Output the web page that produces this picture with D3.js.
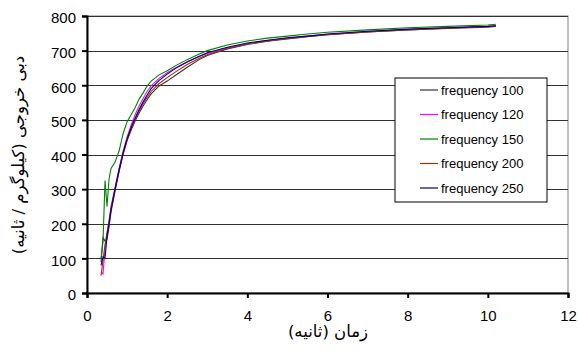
<!DOCTYPE html>
<html>
<head>
<meta charset="utf-8">
<script src="https://cdn.jsdelivr.net/npm/d3@7"></script>
<style>
  body { margin: 0; background: #fff; }
  text { font-family: "Liberation Sans", Arial, sans-serif; }
  .fa { font-family: "DejaVu Sans", sans-serif; }
</style>
</head>
<body>
<div id="chart"></div>
<script>
// time (s), shared by all series
const times = [0.35, 0.4, 0.45, 0.5, 0.55, 0.6, 0.7, 0.8, 0.9, 1.0, 1.1, 1.2, 1.3, 1.4, 1.5, 1.6,
  1.8, 2.0, 2.2, 2.5, 2.8, 3.0, 3.5, 4.0, 4.5, 5.0, 5.5, 6.0, 7.0, 8.0, 9.0, 10.0, 10.2];

const seriesNames = ["frequency 100", "frequency 120", "frequency 150", "frequency 200", "frequency 250"];

const freq100 = [90, 160, 150, 155, 190, 235, 295, 350, 400, 440, 470, 497, 520, 540, 558, 575,
  598, 612, 628, 652, 674, 686, 705, 718, 727, 734, 740, 746, 754, 760, 765, 769, 771];
const freq120 = [60, 55, 130, 175, 210, 250, 305, 360, 410, 450, 485, 515, 540, 562, 582, 598,
  620, 636, 650, 668, 683, 692, 708, 720, 729, 736, 742, 747, 755, 761, 766, 770, 772];
const freq150 = [100, 150, 325, 250, 330, 360, 378, 410, 460, 495, 515, 535, 560, 578, 598, 612,
  630, 642, 656, 674, 690, 700, 716, 728, 736, 742, 748, 753, 760, 766, 770, 774, 776];
const freq200 = [50, 95, 140, 170, 205, 245, 300, 355, 402, 442, 474, 502, 526, 547, 565, 582,
  605, 622, 638, 660, 678, 688, 706, 719, 728, 735, 741, 746, 754, 760, 764, 768, 770];
const freq250 = [80, 105, 100, 165, 200, 240, 300, 355, 405, 445, 478, 505, 530, 552, 572, 590,
  614, 632, 648, 667, 684, 694, 710, 722, 730, 737, 742, 748, 756, 762, 766, 770, 772];

const xTicks = [0, 2, 4, 6, 8, 10, 12];
const yTicks = [0, 100, 200, 300, 400, 500, 600, 700, 800];

const colors = ["#333333", "#ff00ff", "#008000", "#993300", "#000080"];
const allSeries = [freq100, freq120, freq150, freq200, freq250];

const W = 578, H = 351;
const m = {top: 16, right: 10, bottom: 58, left: 87};
const w = W - m.left - m.right, h = H - m.top - m.bottom;

const svg = d3.select("#chart").append("svg")
    .attr("width", W).attr("height", H);

const g = svg.append("g").attr("transform", "translate(" + m.left + "," + m.top + ")");

const x = d3.scaleLinear().domain([0, 12]).range([0, w]);
const y = d3.scaleLinear().domain([0, 800]).range([h, 0]);

// plot border
g.append("rect").attr("width", w).attr("height", h)
  .attr("fill", "none").attr("stroke", "#808080").attr("stroke-width", 1);

// gridlines
g.selectAll(".grid").data(yTicks.filter(d => d > 0)).enter()
  .append("line")
  .attr("x1", 0).attr("x2", w)
  .attr("y1", d => Math.round(y(d)) + 0.5).attr("y2", d => Math.round(y(d)) + 0.5)
  .attr("stroke", "#333").attr("stroke-width", 1.2);

// lines
const line = d3.line().x((d, i) => x(times[i])).y(d => y(d));
allSeries.forEach((s, k) => {
  g.append("path").datum(s)
    .attr("d", line)
    .attr("fill", "none")
    .attr("stroke", colors[k])
    .attr("stroke-width", 1.1);
});

// axes
const xAxis = g.append("g").attr("transform", "translate(0," + h + ")")
  .call(d3.axisBottom(x).tickValues(xTicks).tickSize(5).tickPadding(12).tickFormat(d3.format("d")));
const yAxis = g.append("g")
  .call(d3.axisLeft(y).tickValues(yTicks).tickSize(5).tickPadding(6).tickFormat(d3.format("d")));
[xAxis, yAxis].forEach(a => {
  a.select(".domain").attr("stroke", "#000").attr("stroke-width", 2);
  a.selectAll(".tick line").attr("stroke", "#000").attr("stroke-width", 2);
  a.selectAll(".tick text").attr("fill", "#000")
    .style("font-family", "'Liberation Sans', Arial, sans-serif").style("font-size", "15px");
});
yAxis.selectAll(".tick text").attr("dy", "0.45em");

// axis titles
svg.append("text").attr("class", "fa")
  .attr("x", 328).attr("y", 337)
  .attr("text-anchor", "middle").style("font-size", "16.5px")
  .text("زمان (ثانیه)");

svg.append("text").attr("class", "fa")
  .attr("transform", "translate(24,155) rotate(-90)")
  .attr("text-anchor", "middle").style("font-size", "16.5px")
  .text("دبی خروجی (کیلوگرم / ثانیه)");

// legend
const lg = svg.append("g").attr("transform", "translate(395,78)");
lg.append("rect").attr("width", 152).attr("height", 124)
  .attr("fill", "#fff").attr("stroke", "#000").attr("stroke-width", 1);
seriesNames.forEach((n, k) => {
  const yy = 12 + k * 24.5;
  lg.append("line").attr("x1", 25).attr("x2", 43).attr("y1", yy).attr("y2", yy)
    .attr("stroke", colors[k]).attr("stroke-width", 1.2);
  lg.append("text").attr("x", 46).attr("y", yy + 4.5)
    .style("font-size", "13px").text(n);
});
</script>
</body>
</html>
